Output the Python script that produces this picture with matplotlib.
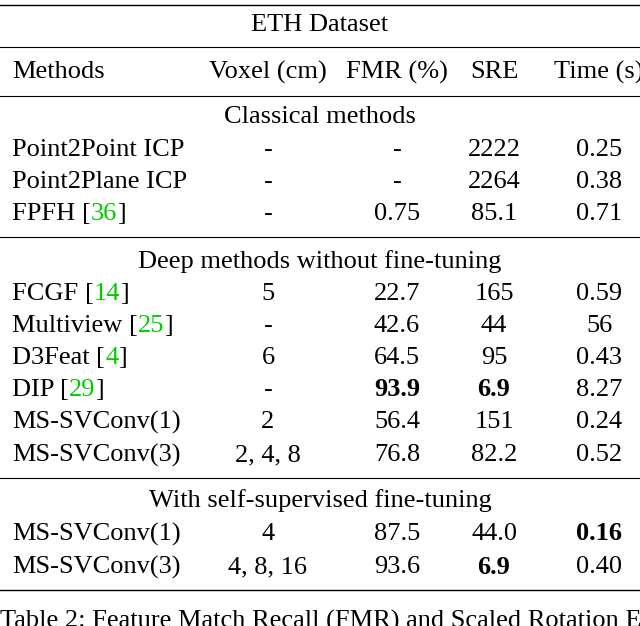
import matplotlib
matplotlib.use("Agg")
import matplotlib.pyplot as plt

title = "ETH Dataset"
headers = ["Methods", "Voxel (cm)", "FMR (%)", "SRE", "Time (s)"]
groups = ["Classical methods", "Deep methods without fine-tuning", "With self-supervised fine-tuning"]
methods = [
    [("Point2Point ICP", None), ("Point2Plane ICP", None), ("FPFH ", "36")],
    [("FCGF ", "14"), ("Multiview ", "25"), ("D3Feat ", "4"), ("DIP ", "29"),
     ("MS-SVConv(1)", None), ("MS-SVConv(3)", None)],
    [("MS-SVConv(1)", None), ("MS-SVConv(3)", None)],
]
voxel = [["-", "-", "-"], ["5", "-", "6", "-", "2", "2, 4, 8"], ["4", "4, 8, 16"]]
fmr = [["-", "-", "0.75"], ["22.7", "42.6", "64.5", "93.9", "56.4", "76.8"], ["87.5", "93.6"]]
sre = [["2222", "2264", "85.1"], ["165", "44", "95", "6.9", "151", "82.2"], ["44.0", "6.9"]]
times = [["0.25", "0.38", "0.71"], ["0.59", "56", "0.43", "8.27", "0.24", "0.52"], ["0.16", "0.40"]]
bold = {(1, 3, 2), (1, 3, 3), (2, 1, 3), (2, 0, 4)}

fig = plt.figure(figsize=(6.4, 6.26), dpi=100)
ax = fig.add_axes([0, 0, 1, 1])
ax.set_xlim(0, 640); ax.set_ylim(626, 0); ax.axis("off")
fs = 19
font = dict(family="Liberation Serif", fontsize=fs)
green = "#00cc00"
colx = [12, 268, 397, 494, 599]

def hline(y, lw=1.0):
    ax.plot([0, 640], [y, y], color="black", lw=lw)

hline(5); ax.text(320, 25, title, ha="center", va="center", **font)
hline(47, 0.8)
ax.text(colx[0], 72, headers[0], ha="left", va="center", **font)
for i in range(1, 5):
    ax.text(colx[i], 72, headers[i], ha="center", va="center", **font)
hline(96, 0.8)

gy = [117, 262, 501]
rowys = [[150, 182, 214], [294, 326, 358, 390, 422, 455], [534, 567]]
lines_after = [237, 478, 590]
for g in range(3):
    ax.text(320, gy[g], groups[g], ha="center", va="center", **font)
    for r, y in enumerate(rowys[g]):
        name, cite = methods[g][r]
        t = ax.text(colx[0], y, name, ha="left", va="center", **font)
        if cite:
            t2 = ax.annotate("[", xy=(1, 0), xycoords=t, va="bottom", ha="left", **font)
            t3 = ax.annotate(cite, xy=(1, 0), xycoords=t2, va="bottom", ha="left", color=green, **font)
            ax.annotate("]", xy=(1, 0), xycoords=t3, va="bottom", ha="left", **font)
        vals = [voxel[g][r], fmr[g][r], sre[g][r], times[g][r]]
        for c, v in enumerate(vals, start=1):
            ax.text(colx[c], y, v, ha="center", va="center",
                    fontweight="bold" if (g, r, c) in bold else "normal", **font)
    hline(lines_after[g], 1.0 if g == 2 else 0.8)

ax.text(0, 610, "Table 2: Feature Match Recall (FMR) and Scaled Rotation Error",
        ha="left", va="top", **font)
fig.savefig("out.png", dpi=100)
